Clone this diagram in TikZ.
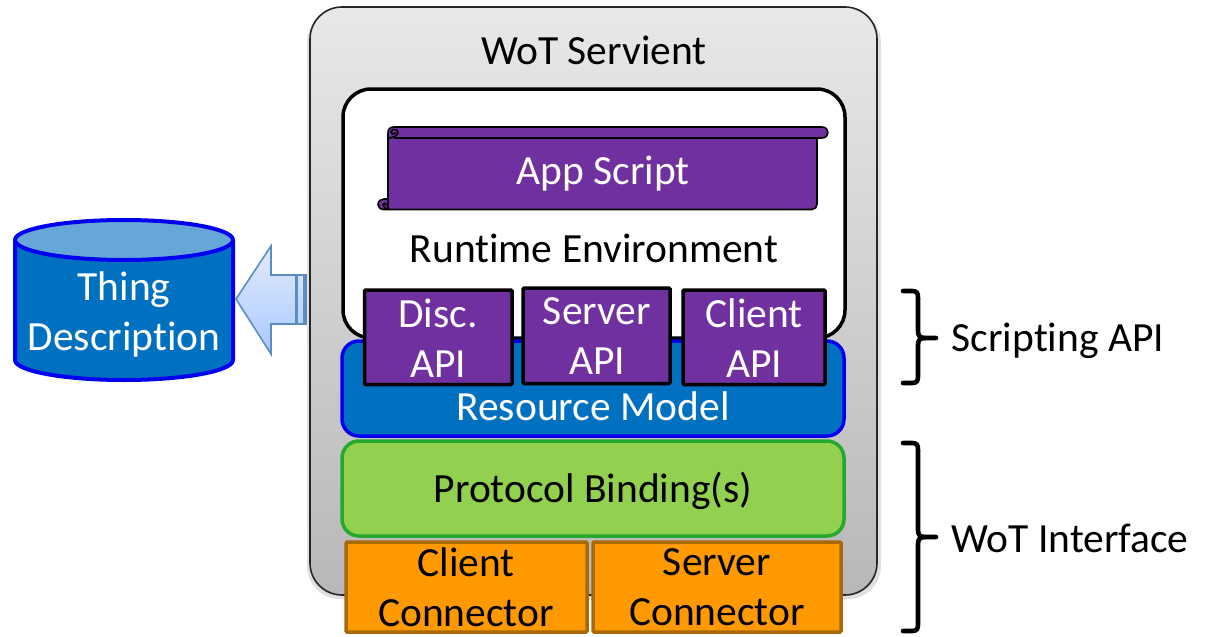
\documentclass[tikz,border=0pt]{standalone}
\usepackage{fontspec}
\setmainfont{Carlito}[Ligatures=NoCommon]
\usetikzlibrary{shadings}
\definecolor{purp}{HTML}{7030A0}
\definecolor{bluef}{HTML}{0070C0}
\definecolor{blueb}{HTML}{0000F0}
\definecolor{cyltop}{HTML}{66A6D8}
\definecolor{greenf}{HTML}{92D050}
\definecolor{greenb}{HTML}{25A82E}
\definecolor{orangef}{HTML}{FF9900}
\definecolor{orangeb}{HTML}{A86A08}
\definecolor{arrowb}{HTML}{5B8DC4}
\definecolor{arrowt}{HTML}{E2EBFB}
\definecolor{arrowd}{HTML}{A9C8FF}
\tikzset{
  txt/.style={font=\fontsize{41.5}{50}\selectfont,align=center,inner sep=0pt},
  wtxt/.style={txt,text=white},
  layerbox/.style={rounded corners=17pt,line width=3.5pt},
  apibox/.style={draw=black,fill=purp,line width=3.5pt,rounded corners=1pt},
  connbox/.style={draw=orangeb,fill=orangef,line width=3.5pt,rounded corners=1pt},
  bracepath/.style={draw=black,line width=4.6pt,line cap=round,line join=round},
}
\begin{document}
\begin{tikzpicture}[x=1pt,y=-1pt]
\useasboundingbox (0,0) rectangle (1216,637);
% outer servient
\fill[black!35,opacity=.35,rounded corners=33pt] (307,10) rectangle (881,599);
\draw[top color=black!9,bottom color=black!28,draw=black!85!white,line width=1.6pt,rounded corners=32pt] (310,7) rectangle (877,595);
\node[txt,text=black] (servient) at (594,50) {WoT Servient};
% runtime
\draw[fill=white,draw=black,line width=3.5pt,rounded corners=28pt] (343,89) rectangle (845,338);
% resource model
\draw[layerbox,fill=bluef,draw=blueb] (342,341) rectangle (844,436);
\node[wtxt] (res) at (593,406) {Resource Model};
% protocol binding
\draw[layerbox,fill=greenf,draw=greenb] (342,441) rectangle (844,536);
\node[txt] (proto) at (593,491) {Protocol Binding(s)};
% scroll
\draw[fill=purp,draw=black,line width=1.6pt,line join=round]
  (388,133) .. controls (388,129) and (390,127) .. (394,127) -- (822,127)
  .. controls (826,127) and (828,130) .. (828,132.5) .. controls (828,135) and (826,138) .. (822,138)
  -- (817,138) -- (817,204) .. controls (817,207) and (815,209.5) .. (812,209.5) -- (384,209.5)
  .. controls (380,209.5) and (378,207) .. (378,204.5) .. controls (378,201) and (381,199) .. (384,199)
  -- (388,199) -- cycle;
\draw[draw=black,line width=1.6pt] (394,138) -- (822,138);
\draw[draw=black,line width=1.6pt,fill=purp] (388,138) .. controls (392,138) and (398,136) .. (398,132.5) .. controls (398,129) and (392,128) .. (391,132) .. controls (391,134) and (394,135) .. (396,133);
\draw[draw=black,line width=1.6pt] (388,199) .. controls (388,202) and (388,206) .. (388,209) .. controls (386,209) and (383,207) .. (383,204.5) .. controls (383,203) and (386,203) .. (387,205);
\node[wtxt] (app) at (603,174) {App Script};
\node[txt] (rt) at (594,248) {Runtime Environment};
% API boxes
\draw[apibox] (364.5,290) rectangle (512,384.5);
\node[wtxt] (disc) at (438,338) {Disc.\\API};
\draw[apibox] (523,288) rectangle (670,383.5);
\node[wtxt] (serv) at (597,336) {Server\\API};
\draw[apibox] (683,290) rectangle (825,384.5);
\node[wtxt] (cli) at (754,338) {Client\\API};
% connectors
\draw[connbox] (346,542) rectangle (587,632);
\node[txt] (cc) at (466,587) {Client\\Connector};
\draw[connbox] (593,542) rectangle (841,632);
\node[txt] (sc) at (717,587) {Server\\Connector};
% cylinder
\draw[fill=bluef,draw=blueb,line width=4pt]
  (15,240) -- (15,360) .. controls (15,371) and (64,380) .. (124,380) .. controls (184,380) and (233,371) .. (233,360) -- (233,240);
\draw[fill=cyltop,draw=blueb,line width=4pt]
  (124,240) ellipse [x radius=109,y radius=20];
\node[wtxt] (td) at (124,314.5) {Thing\\Description};
% arrow
\draw[draw=arrowb,line width=1.6pt,line join=miter,top color=arrowt,bottom color=arrowd]
  (306,275) -- (271,275) -- (271,246) -- (236,299) -- (271,354) -- (271,324) -- (306,324) -- cycle;
\fill[arrowb] (295,275) rectangle (298,324);
\fill[arrowb] (303,275) rectangle (306,324);
% braces
\path[bracepath] (903,291) -- (912,291) .. controls (917,291) and (918,293) .. (918,298) -- (918,331) .. controls (918,336) and (920,338) .. (925,338) -- (936,338);
\path[bracepath] (925,338) .. controls (920,338) and (918,340) .. (918,345) -- (918,376) .. controls (918,381) and (917,383) .. (912,383) -- (903,383);
\path[bracepath] (903,443) -- (912,443) .. controls (917,443) and (918,445) .. (918,450) -- (918,530) .. controls (918,535) and (920,537) .. (925,537) -- (936,537);
\path[bracepath] (925,537) .. controls (920,537) and (918,539) .. (918,544) -- (918,624) .. controls (918,629) and (917,631) .. (912,631) -- (903,631);
\node[txt] (script) at (1058,340.5) {Scripting API};
\node[txt] (wot) at (1070,538) {WoT Interface};
\end{tikzpicture}
\end{document}
